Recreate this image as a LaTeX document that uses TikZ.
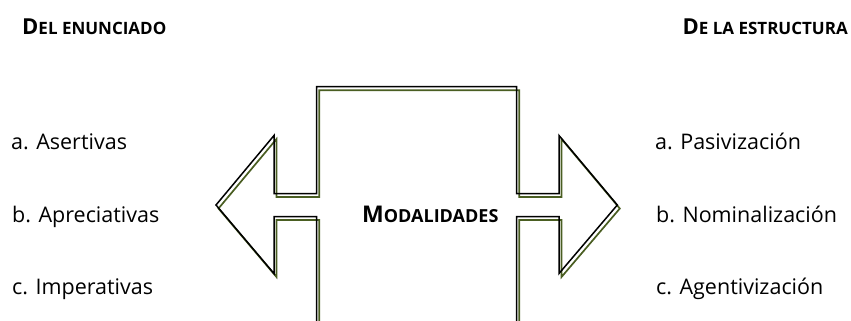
\documentclass[tikz,border=0pt]{standalone}
\usepackage{fontspec}
\setmainfont{Open Sans}
\usepackage{tikz}
\usetikzlibrary{positioning,calc}

\definecolor{olivo}{HTML}{4A5E22}

\tikzset{
  item/.style={anchor=base west, inner sep=0pt, font=\fontsize{21.5}{21.5}\selectfont},
  titulo/.style={anchor=base west, inner sep=0pt, font=\bfseries},
  trazo/.style={draw=black, line width=1.5pt, line join=miter},
  sombra/.style={draw=olivo, line width=1.7pt, line join=miter}
}

% small caps by hand: big first letter, smaller rest
\newcommand{\versalita}[4]{{\fontsize{#3}{#3}\selectfont #1}{\fontsize{#4}{#4}\selectfont #2}}

% outline of the double arrow (pixel units, y downwards)
\newcommand{\contorno}{
  (316.7,330) -- (316.7,216.5) -- (274,216.5) -- (274,273.5) -- (216,205)
  -- (274,135.5) -- (274,193.5) -- (316.7,193.5) -- (316.7,86.7)
  -- (516.7,86.7) -- (516.7,193.5) -- (559,193.5) -- (559,135.5)
  -- (617.3,205) -- (559,273.5) -- (559,216.5) -- (516.7,216.5) -- (516.7,330)
}

\begin{document}
\begin{tikzpicture}[x=1pt, y=-1pt]
    \useasboundingbox (0,0) rectangle (851,321);
    \clip (0,0) rectangle (851,321);

    % double arrow with shadow
    \draw[sombra, shift={(2.5,3.5)}] \contorno;
    \draw[trazo] \contorno;

    % headings
    \node[titulo] (enunciado) at (22,35) {\versalita{D}{EL ENUNCIADO}{22}{17}};
    \node[titulo, anchor=base east] (estructura) at (848,35) {\versalita{D}{E LA ESTRUCTURA}{22}{17}};
    \node[titulo] (modalidades) at (362,222) {\versalita{M}{ODALIDADES}{23}{18}};

    % left column
    \node[item] (asertivas) at (11,149) {a. Asertivas};
    \node[item] (apreciativas) at (12,222) {b. Apreciativas};
    \node[item] (imperativas) at (12,294) {c. Imperativas};

    % right column
    \node[item] (pasivizacion) at (655,149) {a. Pasivización};
    \node[item] (nominalizacion) at (656,222) {b. Nominalización};
    \node[item] (agentivizacion) at (656,294) {c. Agentivización};
\end{tikzpicture}
\end{document}
